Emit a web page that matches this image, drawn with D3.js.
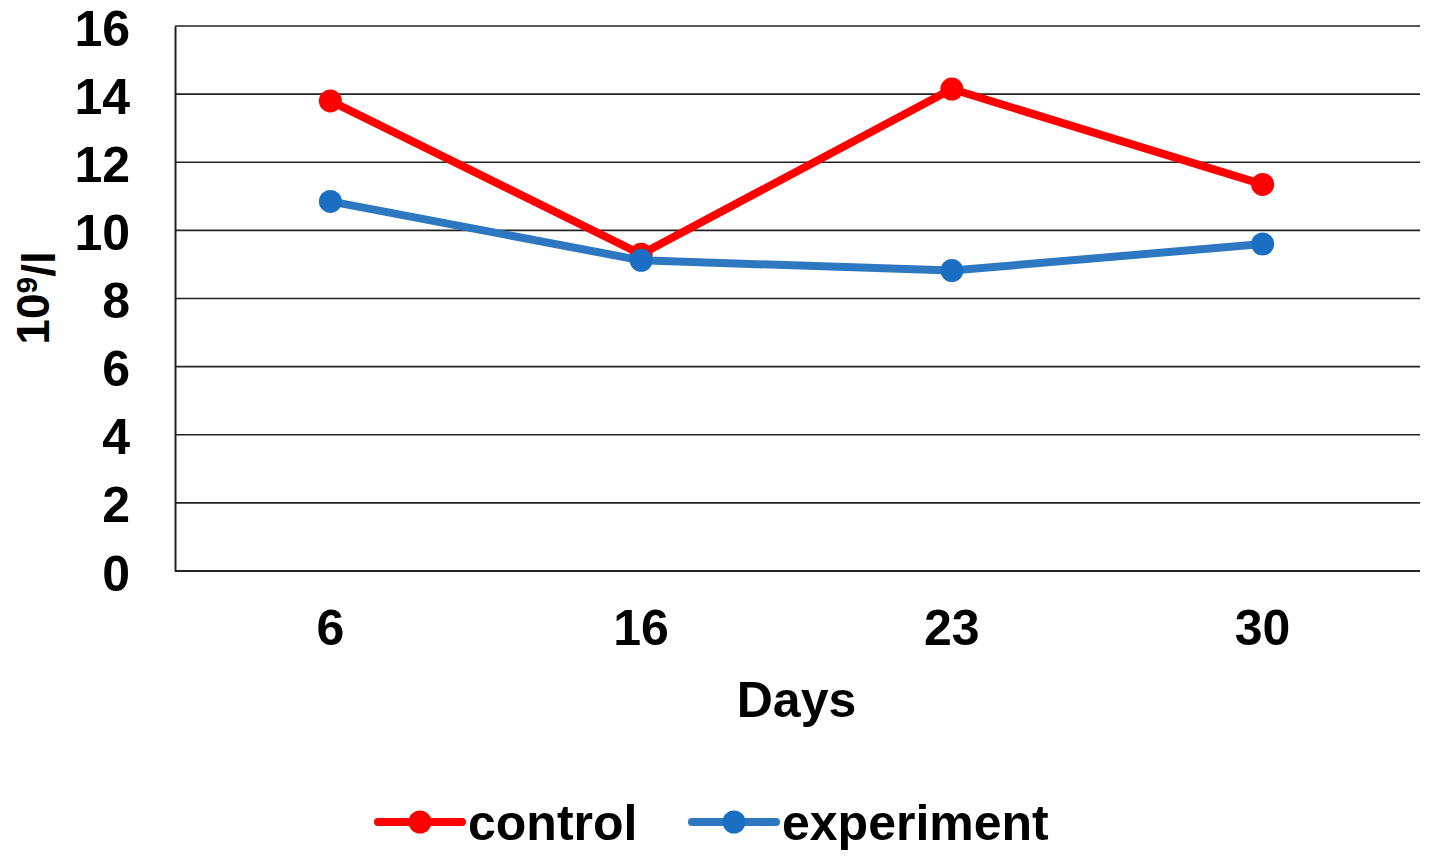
<!DOCTYPE html>
<html>
<head>
<meta charset="utf-8">
<script src="https://cdn.jsdelivr.net/npm/d3@7"></script>
<style>
    body { margin: 0; background: #fff; }
    text { font-family: "Liberation Sans", Arial, sans-serif; font-weight: bold; fill: #000; }
</style>
</head>
<body>
<div id="chart"></div>
<script>
// chart values
var days = ["6", "16", "23", "30"];
var control = [13.8, 9.3, 14.15, 11.35];
var experiment = [10.85, 9.12, 8.82, 9.6];
var yTicks = [0, 2, 4, 6, 8, 10, 12, 14, 16];
var seriesNames = ["control", "experiment"];

var width = 1429, height = 858;
var margin = {left: 175, right: 11, top: 26, bottom: 287};

var svg = d3.select("#chart").append("svg")
    .attr("width", width)
    .attr("height", height);

var x = d3.scaleBand()
    .domain(days)
    .range([margin.left, width - margin.right]);

var y = d3.scaleLinear()
    .domain([0, 16])
    .range([height - margin.bottom, margin.top]);

var colors = {control: {line: "#ff0000", dot: "#ff0000"},
              experiment: {line: "#2e78c2", dot: "#1b6fc2"}};

// horizontal grid
svg.append("g")
    .selectAll("line")
    .data(yTicks.filter(function (d) { return d > 0; }))
    .enter().append("line")
    .attr("x1", margin.left)
    .attr("x2", width - margin.right + 2)
    .attr("y1", function (d) { return y(d); })
    .attr("y2", function (d) { return y(d); })
    .style("stroke", "#222")
    .style("stroke-width", 1.6);

// y axis
var yAxis = svg.append("g")
    .attr("transform", "translate(" + margin.left + ",0)")
    .call(d3.axisLeft(y).tickValues(yTicks).tickSize(0).tickPadding(45));
yAxis.select(".domain").style("stroke", "#222").style("stroke-width", 2);
yAxis.selectAll("text").style("font-size", "50px").attr("dy", "0.38em");

// x axis
var xAxis = svg.append("g")
    .attr("transform", "translate(0," + y(0) + ")")
    .call(d3.axisBottom(x).tickSize(0).tickPadding(38));
xAxis.select(".domain").attr("d", "M" + margin.left + ",0H" + (width - margin.right + 2))
    .style("stroke", "#222").style("stroke-width", 2);
xAxis.selectAll("text").style("font-size", "50px");

// axis titles
svg.append("text")
    .attr("x", (margin.left + width - margin.right) / 2)
    .attr("y", 717)
    .attr("text-anchor", "middle")
    .style("font-size", "50px")
    .text("Days");

var yTitle = svg.append("text")
    .attr("transform", "translate(49,298) rotate(-90)")
    .attr("text-anchor", "middle")
    .style("font-size", "46px");
yTitle.append("tspan").text("10");
yTitle.append("tspan").attr("dy", "-0.4em").style("font-size", "30px").text("9");
yTitle.append("tspan").attr("dy", "0.4em").text("/l");

// series
var series = [
    {name: "control", values: control},
    {name: "experiment", values: experiment}
];

var line = d3.line()
    .x(function (d, i) { return x(days[i]) + x.bandwidth() / 2; })
    .y(function (d) { return y(d); });

var groups = svg.selectAll(".series")
    .data(series)
    .enter().append("g")
    .attr("class", "series");

groups.append("path")
    .attr("d", function (d) { return line(d.values); })
    .style("fill", "none")
    .style("stroke", function (d) { return colors[d.name].line; })
    .style("stroke-width", 8)
    .style("stroke-linejoin", "round");

groups.each(function (s) {
    d3.select(this).selectAll("circle")
        .data(s.values)
        .enter().append("circle")
        .attr("cx", function (d, i) { return x(days[i]) + x.bandwidth() / 2; })
        .attr("cy", function (d) { return y(d); })
        .attr("r", 11.5)
        .style("fill", colors[s.name].dot);
});

// legend
var legendPos = [378, 692];
var legend = svg.selectAll(".legend")
    .data(seriesNames)
    .enter().append("g")
    .attr("class", "legend")
    .attr("transform", function (d, i) { return "translate(" + legendPos[i] + ",822)"; });

legend.append("line")
    .attr("x1", 0).attr("x2", 84)
    .style("stroke", function (d) { return colors[d].line; })
    .style("stroke-width", 8)
    .style("stroke-linecap", "round");

legend.append("circle")
    .attr("cx", 42)
    .attr("r", 11.5)
    .style("fill", function (d) { return colors[d].dot; });

legend.append("text")
    .attr("x", 90)
    .attr("y", 18)
    .style("font-size", "50px")
    .text(function (d) { return d; });
</script>
</body>
</html>
